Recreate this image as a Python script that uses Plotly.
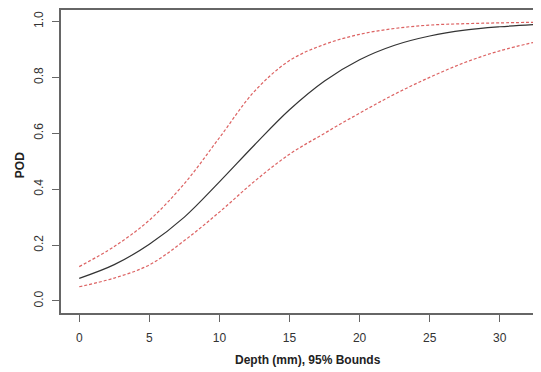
import plotly.graph_objects as go

depth = [0, 2.5, 5, 7.5, 10, 12.5, 15, 17.5, 20, 22.5, 25, 27.5, 30, 32.5]
pod = [0.081, 0.130, 0.203, 0.300, 0.426, 0.558, 0.684, 0.787, 0.863, 0.915, 0.948, 0.969, 0.981, 0.989]
upper = [0.123, 0.195, 0.289, 0.420, 0.584, 0.750, 0.860, 0.918, 0.954, 0.975, 0.987, 0.992, 0.995, 0.997]
lower = [0.051, 0.082, 0.129, 0.216, 0.318, 0.428, 0.525, 0.600, 0.672, 0.740, 0.800, 0.853, 0.895, 0.926]

x_ticks = [0, 5, 10, 15, 20, 25, 30]
y_ticks = [0.0, 0.2, 0.4, 0.6, 0.8, 1.0]
y_tick_text = ["0.0", "0.2", "0.4", "0.6", "0.8", "1.0"]
x_title = "Depth (mm), 95% Bounds"
y_title = "POD"

red = "rgba(214,70,70,0.85)"
fig = go.Figure()
fig.add_trace(go.Scatter(x=depth, y=upper, mode="lines", line=dict(color=red, width=1.2, dash="3px,2px", shape="spline"), showlegend=False))
fig.add_trace(go.Scatter(x=depth, y=lower, mode="lines", line=dict(color=red, width=1.2, dash="3px,2px", shape="spline"), showlegend=False))
fig.add_trace(go.Scatter(x=depth, y=pod, mode="lines", line=dict(color="#333333", width=1.2, shape="spline"), showlegend=False))

# the page body has an 8px default margin, so the figure is 8px smaller
font = dict(family="Liberation Sans, Arial, sans-serif", size=12, color="#333333")
fig.update_layout(
    width=533, height=364,
    margin=dict(l=53, r=0, t=2, b=59, autoexpand=False),
    paper_bgcolor="white", plot_bgcolor="white",
    font=font,
    xaxis=dict(
        range=[-1.3, 32.94], tickmode="array", tickvals=x_ticks,
        ticks="outside", ticklen=7, tickcolor="#666666", tickwidth=1,
        showline=True, linecolor="#666666", linewidth=1.5, mirror=True,
        showgrid=False, zeroline=False, automargin=False,
        ticklabelstandoff=6,
    ),
    yaxis=dict(
        range=[-0.043, 1.041], tickmode="array", tickvals=y_ticks, ticktext=y_tick_text,
        tickangle=-90,
        ticks="outside", ticklen=7, tickcolor="#666666", tickwidth=1,
        showline=True, linecolor="#666666", linewidth=1.5,
        showgrid=False, zeroline=False, automargin=False,
        ticklabelstandoff=4,
    ),
    annotations=[
        dict(text="<b>" + x_title + "</b>", xref="paper", yref="paper", x=0.515, y=-0.155,
             xanchor="center", yanchor="middle", showarrow=False, font=dict(size=12, color="#222222")),
        dict(text="<b>" + y_title + "</b>", xref="paper", yref="paper", x=-0.0854, y=0.488,
             xanchor="center", yanchor="middle", textangle=-90, showarrow=False, font=dict(size=12, color="#222222")),
    ],
)
fig.write_html("out.html")
